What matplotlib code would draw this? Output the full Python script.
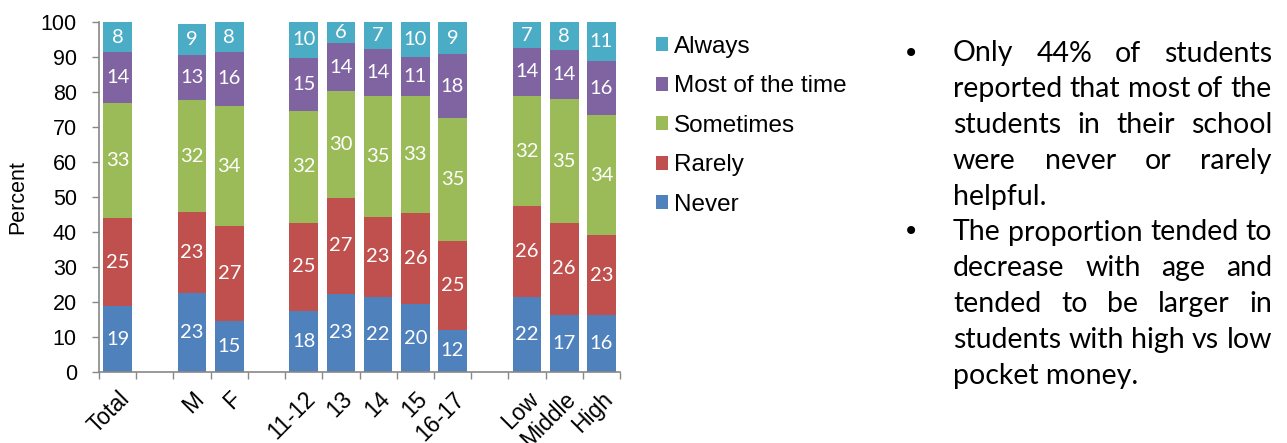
import matplotlib
matplotlib.use("Agg")
import matplotlib.pyplot as plt
from matplotlib.patches import Patch
import numpy as np

# ---------------- data ----------------
groups = [["Total"], ["M", "F"], ["11-12", "13", "14", "15", "16-17"], ["Low", "Middle", "High"]]
categories = [c for g in groups for c in g]
series = ["Never", "Rarely", "Sometimes", "Most of the time", "Always"]

never = [19.0, 22.7, 14.7, 17.6, 22.5, 21.5, 19.6, 12.2, 21.5, 16.4, 16.4]
rarely = [25.0, 23.2, 27.0, 25.1, 27.3, 22.9, 26.0, 25.4, 26.0, 26.3, 22.7]
sometimes = [33.0, 31.8, 34.4, 32.0, 30.5, 34.5, 33.3, 35.1, 31.4, 35.3, 34.4]
most = [14.5, 13.0, 15.4, 15.2, 13.8, 13.6, 11.3, 18.2, 13.8, 14.1, 15.4]
always = [8.5, 8.8, 8.5, 10.1, 5.9, 7.5, 9.8, 9.1, 7.3, 7.9, 11.1]

never_lbl = [19, 23, 15, 18, 23, 22, 20, 12, 22, 17, 16]
rarely_lbl = [25, 23, 27, 25, 27, 23, 26, 25, 26, 26, 23]
sometimes_lbl = [33, 32, 34, 32, 30, 35, 33, 35, 32, 35, 34]
most_lbl = [14, 13, 16, 15, 14, 14, 11, 18, 14, 14, 16]
always_lbl = [8, 9, 8, 10, 6, 7, 10, 9, 7, 8, 11]

colors = ["#4F81BD", "#C0504D", "#9BBB59", "#8064A2", "#4BACC6"]

y_ticks = [0, 10, 20, 30, 40, 50, 60, 70, 80, 90, 100]

bullet_paragraphs = [
    ["Only 44% of students", "reported that most of the", "students in their school",
     "were never or rarely", "helpful."],
    ["The proportion tended to", "decrease with age and", "tended to be larger in",
     "students with high vs low", "pocket money."],
]

# ---------------- layout ----------------
W, H = 1287, 443
fig = plt.figure(figsize=(W / 100, H / 100), dpi=100)
ax = fig.add_axes([99 / W, 1 - 372.3 / H, (620 - 99) / W, (372.3 - 22.3) / H])

positions = []
p = 0
for g in groups:
    for _ in g:
        positions.append(p)
        p += 1
    p += 1
n_slots = p - 1
positions = np.array(positions, dtype=float)

values = [never, rarely, sometimes, most, always]
labels = [never_lbl, rarely_lbl, sometimes_lbl, most_lbl, always_lbl]
bottom = np.zeros(len(categories))
for vals, lbls, col, name in zip(values, labels, colors, series):
    vals = np.array(vals)
    ax.bar(positions, vals, bottom=bottom, width=0.77, color=col, label=name, zorder=2)
    for x, b, v, l in zip(positions, bottom, vals, lbls):
        ax.text(x, b + v / 2, str(l), ha="center", va="center", color="white",
                fontsize=14.5, family="Lato", zorder=3)
    bottom += vals

ax.set_xlim(-0.5, n_slots - 0.5)
ax.set_ylim(0, 100)
ax.set_yticks(y_ticks)
ax.set_yticklabels([str(t) for t in y_ticks], fontsize=15.5, family="Liberation Sans")
ax.set_ylabel("Percent", fontsize=15.5, family="Liberation Sans", labelpad=9)

ax.set_xticks(positions)
ax.set_xticklabels(categories, rotation=45, ha="right", va="top", rotation_mode="anchor",
                   fontsize=16.5, family="Liberation Sans")
ax.set_xticks(np.arange(-0.5, n_slots, 1.0), minor=True)
ax.tick_params(axis="x", which="major", length=0, pad=11)
ax.tick_params(axis="x", which="minor", length=5, width=1, color="#888888")
ax.tick_params(axis="y", length=5, width=1, color="#888888", pad=11)

for s in ["top", "right"]:
    ax.spines[s].set_visible(False)
for s in ["left", "bottom"]:
    ax.spines[s].set_color("#888888")
    ax.spines[s].set_linewidth(1.2)

# legend
handles = [Patch(facecolor=c, edgecolor="none") for c in colors][::-1]
fig.legend(handles, series[::-1], loc="upper left", bbox_to_anchor=(656 / W, 1 - 36 / H),
           frameon=False, borderpad=0, borderaxespad=0, handlelength=0.5, handleheight=0.5,
           handletextpad=0.22, labelspacing=0.72,
           prop={"family": "Liberation Sans", "size": 17.5})

# ---------------- bullet text (justified) ----------------
renderer = fig.canvas.get_renderer()
txt_font = dict(family="Lato", fontsize=20.5, color="black")
left_px, right_px = 953.0, 1272.0
bullet_x = 911.0
first_baseline = 61.5
line_step = 35.8

line_idx = 0
for para in bullet_paragraphs:
    base0 = first_baseline + line_step * line_idx
    fig.text(bullet_x / W, 1 - (base0 - 8) / H, "\u2022", ha="center", va="center",
             fontsize=20, family="DejaVu Sans")
    for k, line in enumerate(para):
        base = first_baseline + line_step * line_idx
        yfig = 1 - base / H
        words = line.split()
        if k == len(para) - 1 or len(words) == 1:
            fig.text(left_px / W, yfig, line, ha="left", va="baseline", **txt_font)
        else:
            objs = [fig.text(0, yfig, w, ha="left", va="baseline", **txt_font) for w in words]
            widths = [o.get_window_extent(renderer).width for o in objs]
            gap = (right_px - left_px - sum(widths)) / (len(words) - 1)
            x = left_px
            for o, wdt in zip(objs, widths):
                o.set_x(x / W)
                x += wdt + gap
        line_idx += 1

fig.savefig("out.png", dpi=100)
